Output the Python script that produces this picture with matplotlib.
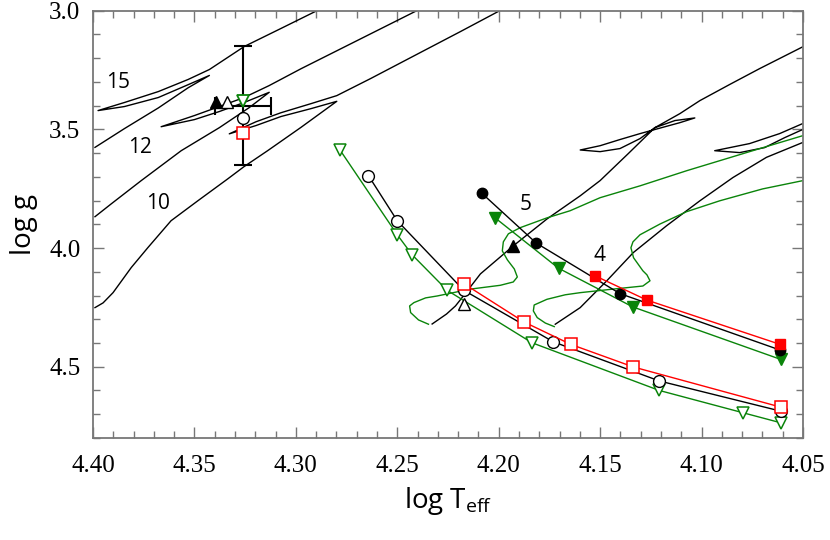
import matplotlib
matplotlib.use('Agg')
import matplotlib.pyplot as plt
from matplotlib.ticker import MultipleLocator

plt.rcParams['mathtext.fontset'] = 'custom'
plt.rcParams['mathtext.rm'] = 'Open Sans'

# evolutionary tracks (log Teff, log g)
t15 = [4.399, 4.3845, 4.3678, 4.3531, 4.3426, 4.3531, 4.3678, 4.3845, 4.3975,
       4.3845, 4.3678, 4.3531, 4.3426, 4.3254, 4.3073, 4.2893, 4.2803]
g15 = [3.576, 3.497, 3.410, 3.325, 3.273, 3.312, 3.366, 3.404, 3.421,
       3.387, 3.341, 3.290, 3.248, 3.151, 3.075, 2.999, 2.961]

t12 = [4.399, 4.391, 4.3762, 4.3565, 4.3377, 4.3229, 4.3131, 4.3255, 4.3377, 4.3500, 4.3664,
       4.3500, 4.3377, 4.3255, 4.3132, 4.2975, 4.2828, 4.2401, 4.2287]
g12 = [3.868, 3.814, 3.716, 3.590, 3.493, 3.408, 3.344, 3.387, 3.425, 3.459, 3.489,
       3.442, 3.404, 3.366, 3.316, 3.245, 3.182, 2.999, 2.957]

t10 = [4.399, 4.395, 4.3901, 4.3811, 4.3729, 4.3615, 4.3483, 4.3336, 4.3255, 4.3139, 4.2975, 4.2798,
       4.2926, 4.3073, 4.3196, 4.3328,
       4.3196, 4.3073, 4.2926, 4.2798, 4.2631, 4.2385, 4.2188, 4.1992, 4.1893]
g10 = [4.251, 4.231, 4.188, 4.082, 3.998, 3.885, 3.801, 3.709, 3.657, 3.590, 3.492, 3.382,
       3.413, 3.446, 3.484, 3.519,
       3.468, 3.430, 3.392, 3.358, 3.286, 3.176, 3.088, 2.999, 2.957]

t5 = [4.2328, 4.2257, 4.2213, 4.2174, 4.2090, 4.1928, 4.1761, 4.1598, 4.15, 4.1362, 4.1230, 4.1131, 4.1033,
      4.1107, 4.1180, 4.1303, 4.1402, 4.15, 4.1598,
      4.15, 4.1402, 4.1303, 4.1230, 4.1107, 4.1008, 4.0861, 4.0713, 4.0507, 4.0418]
g5 = [4.320, 4.278, 4.244, 4.202, 4.109, 3.991, 3.877, 3.780, 3.716, 3.603, 3.493, 3.463, 3.452,
      3.472, 3.489, 3.518, 3.543, 3.569, 3.587,
      3.594, 3.581, 3.539, 3.493, 3.434, 3.379, 3.311, 3.244, 3.155, 3.117]

t4 = [4.1721, 4.1598, 4.1467, 4.1336, 4.1172, 4.1008, 4.0845, 4.0680, 4.0500, 4.0369, 4.0295,
      4.0418, 4.0502, 4.0590, 4.0689, 4.0812, 4.0935,
      4.0763, 4.0615, 4.0502, 4.0369]
g4 = [4.321, 4.251, 4.138, 4.019, 3.906, 3.801, 3.703, 3.618, 3.555, 3.505, 3.480,
      3.493, 3.501, 3.535, 3.577, 3.598, 3.590,
      3.560, 3.518, 3.476, 3.421]

# rotating tracks (green)
tg1 = [4.2346, 4.2395, 4.2434, 4.2439, 4.2418, 4.2360, 4.2303, 4.2139, 4.1992, 4.1928, 4.1908,
       4.1923, 4.1957, 4.1982, 4.1977, 4.1952, 4.1893, 4.1762, 4.1648, 4.15, 4.1303, 4.1072,
       4.0763, 4.0502, 4.0369]
gg1 = [4.321, 4.303, 4.272, 4.244, 4.230, 4.210, 4.202, 4.173, 4.157, 4.143, 4.122,
       4.088, 4.050, 4.012, 3.974, 3.940, 3.914, 3.873, 3.843, 3.788, 3.738, 3.674,
       3.594, 3.527, 3.493]
tg2 = [4.1726, 4.1770, 4.1810, 4.1829, 4.1825, 4.1762, 4.1672, 4.1598, 4.1436, 4.1289, 4.1254,
       4.1269, 4.1289, 4.1335, 4.1348, 4.1338, 4.1303, 4.1205, 4.1074, 4.0910, 4.0699, 4.0500,
       4.0369]
gg2 = [4.331, 4.316, 4.293, 4.265, 4.240, 4.216, 4.197, 4.188, 4.173, 4.160, 4.138,
       4.113, 4.096, 4.041, 3.999, 3.974, 3.944, 3.899, 3.847, 3.801, 3.751, 3.716,
       3.674]

# model sequences
t_oc = [4.2642, 4.2500, 4.2172, 4.1731, 4.1208, 4.0610]
g_oc = [3.695, 3.885, 4.178, 4.395, 4.560, 4.687]
t_os = [4.2172, 4.1874, 4.1644, 4.1336, 4.0610]
g_os = [4.150, 4.312, 4.406, 4.501, 4.670]
t_ot = [4.2783, 4.2500, 4.2426, 4.2254, 4.1836, 4.1208, 4.0795, 4.0610]
g_ot = [3.586, 3.944, 4.029, 4.178, 4.399, 4.600, 4.694, 4.736]
t_fc = [4.2082, 4.1815, 4.1402, 4.0612]
g_fc = [3.770, 3.979, 4.192, 4.430]
t_fs = [4.1525, 4.1270, 4.0612]
g_fs = [4.117, 4.219, 4.406]
t_ft = [4.2016, 4.1705, 4.1339, 4.0610]
g_ft = [3.874, 4.085, 4.248, 4.469]

# observed star
star_t, star_g = 4.326, 3.40
star_terr, star_gerr = 0.014, 0.25
star_sym_t = [4.3393, 4.3339, 4.326, 4.326, 4.326]
star_sym_g = [3.383, 3.383, 3.379, 3.451, 3.514]

# single triangles on the 5 Msun track
tri_t = [4.1929, 4.2172]
tri_g = [3.991, 4.234]

labels = ['15', '12', '10', '5', '4']
lab_t = [4.3875, 4.3766, 4.3678, 4.1865, 4.1503]
lab_g = [3.303, 3.577, 3.814, 3.818, 4.033]

green = '#0a840a'

fig = plt.figure(figsize=(8.3, 5.4), dpi=100)
ax = fig.add_axes([0.112, 0.189, 0.8554, 0.7913])

for t, g in [(t15, g15), (t12, g12), (t10, g10), (t5, g5), (t4, g4)]:
    ax.plot(t, g, color='black', lw=1.0)
ax.plot(tg1, gg1, color=green, lw=1.0)
ax.plot(tg2, gg2, color=green, lw=1.0)

ax.plot(t_ot, g_ot, color=green, lw=1.0, marker='v', ms=9, mfc='white', mec=green, mew=1.1)
ax.plot(t_oc, g_oc, color='black', lw=1.0, marker='o', ms=8.5, mfc='white', mec='black', mew=1.0)
ax.plot(t_os, g_os, color='red', lw=1.0, marker='s', ms=9, mfc='white', mec='red', mew=1.1)
ax.plot(t_ft, g_ft, color=green, lw=1.0, marker='v', ms=8.5, mfc=green, mec=green)
ax.plot(t_fc, g_fc, color='black', lw=1.0, marker='o', ms=7.5, mfc='black', mec='black')
ax.plot(t_fs, g_fs, color='red', lw=1.0, marker='s', ms=7.5, mfc='red', mec='red')

ax.plot(tri_t[0], tri_g[0], marker='^', ms=8.5, color='black', ls='none')
ax.plot(tri_t[1], tri_g[1], marker='^', ms=9, mfc='white', mec='black', ls='none')

ax.errorbar(star_t, star_g, xerr=star_terr, yerr=star_gerr, fmt='none',
            ecolor='black', elinewidth=1.5, capsize=6.5, capthick=1.5)
ax.plot(star_sym_t[0], star_sym_g[0], marker='^', ms=8.5, color='black', ls='none')
ax.plot(star_sym_t[1], star_sym_g[1], marker='^', ms=9, mfc='white', mec='black', ls='none')
ax.plot(star_sym_t[2], star_sym_g[2], marker='v', ms=9, mfc='white', mec=green, mew=1.3, ls='none')
ax.plot(star_sym_t[3], star_sym_g[3], marker='o', ms=8.5, mfc='white', mec='black', ls='none')
ax.plot(star_sym_t[4], star_sym_g[4], marker='s', ms=9, mfc='white', mec='red', mew=1.1, ls='none')

for s, t, g in zip(labels, lab_t, lab_g):
    ax.text(t, g, s, fontsize=15, family='Open Sans', ha='center', va='center')

ax.set_xlim(4.40, 4.05)
ax.set_ylim(4.8, 3.0)
ax.xaxis.set_major_locator(MultipleLocator(0.05))
ax.xaxis.set_minor_locator(MultipleLocator(0.01))
ax.yaxis.set_major_locator(MultipleLocator(0.5))
ax.yaxis.set_minor_locator(MultipleLocator(0.1))
ax.tick_params(which='both', direction='in', top=True, right=True, color='#777777')
ax.tick_params(which='major', length=8, width=1)
ax.tick_params(which='minor', length=5, width=1)
ax.tick_params(axis='x', pad=12)
ax.tick_params(axis='y', pad=9)
ax.set_xticks(ax.get_xticks())
ax.set_xticklabels(['%.2f' % v for v in ax.get_xticks()], family='Liberation Serif', fontsize=18)
ax.set_yticks(ax.get_yticks())
ax.set_yticklabels(['%.1f' % v for v in ax.get_yticks()], family='Liberation Serif', fontsize=18)
ax.set_xlim(4.40, 4.05)
ax.set_ylim(4.8, 3.0)
for sp in ax.spines.values():
    sp.set_color('#777777')
    sp.set_linewidth(1.3)

ax.set_xlabel(r'log T$_{\rm eff}$', family='Open Sans', fontsize=20, labelpad=6)
ax.set_ylabel('log g', family='Open Sans', fontsize=20, labelpad=8)

plt.savefig('out.png', dpi=100)
